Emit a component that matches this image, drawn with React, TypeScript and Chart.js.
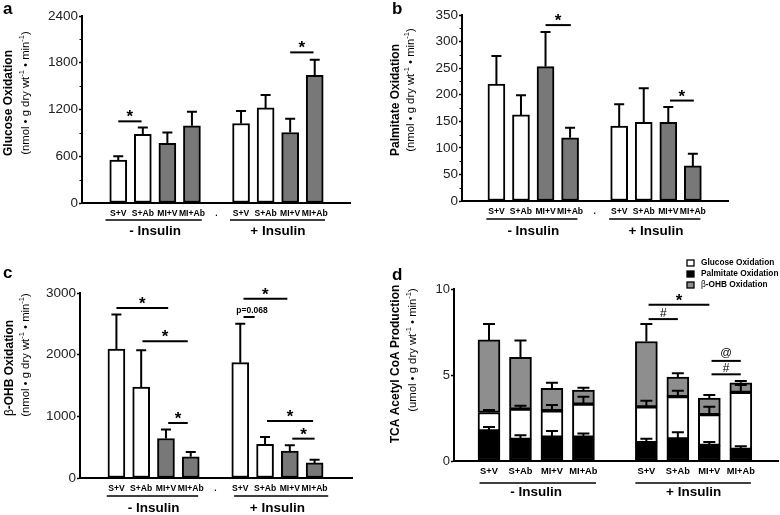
import React, { useEffect, useRef } from 'react';
import { Chart, registerables } from 'chart.js';

Chart.register(...registerables);

// ---------------- DATA ----------------
const categories = ['S+V', 'S+Ab', 'MI+V', 'MI+Ab', '.', 'S+V', 'S+Ab', 'MI+V', 'MI+Ab'];
const categoriesD = ['S+V', 'S+Ab', 'MI+V', 'MI+Ab', '', 'S+V', 'S+Ab', 'MI+V', 'MI+Ab'];
const groupLabels = ['- Insulin', '+ Insulin'];

// a: Glucose oxidation (nmol/g dry wt/min)
const glucoseMean = [550, 880, 765, 990, null, 1020, 1220, 905, 1640];
const glucoseErr = [50, 90, 140, 180, null, 160, 165, 175, 200];
// b: Palmitate oxidation
const palmitateMean = [220, 162, 253, 119, null, 141, 148, 148, 66];
const palmitateErr = [53, 37, 65, 19, null, 41, 64, 29, 23];
// c: beta-OHB oxidation
const ohbMean = [2090, 1475, 640, 345, null, 1870, 545, 435, 245];
const ohbErr = [560, 595, 145, 75, null, 630, 120, 95, 50];

// d: TCA acetyl CoA production (umol/g dry wt/min), stacked
const legendLabels = ['Glucose Oxidation', 'Palmitate Oxidation', 'β-OHB Oxidation'];
const tcaPalmitate = [1.75, 1.26, 1.38, 1.38, null, 1.07, 1.28, 0.91, 0.68];
const tcaPalmitateErr = [0.23, 0.24, 0.37, 0.22, null, 0.23, 0.39, 0.2, 0.18];
const tcaGlucose = [1.07, 1.76, 1.54, 1.93, null, 2.08, 2.46, 1.79, 3.31];
const tcaGlucoseErr = [0.14, 0.19, 0.33, 0.43, null, 0.35, 0.35, 0.45, 0.43];
const tcaOhb = [4.22, 3.01, 1.3, 0.81, null, 3.8, 1.14, 0.96, 0.56];
const tcaOhbErr = [0.92, 0.97, 0.33, 0.14, null, 1.01, 0.22, 0.17, 0.1];

// y axis ranges [max, step]
const yRangeA = [2400, 600];
const yRangeB = [350, 50];
const yRangeC = [3000, 1000];
const yRangeD = [10, 5];

// significance annotations: [from index, to index, y value, label]
const sigA: [number, number, number, string][] = [[0, 0.95, 1048, '*'], [7, 7.95, 1933, '*']];
const sigB: [number, number, number, string][] = [[2, 3.03, 331, '*'], [7.07, 8.04, 189, '*']];
const sigC: [number, number, number, string][] = [
  [0, 2.09, 2757, '*'], [1.05, 2.88, 2216, '*'], [2.09, 2.88, 892, '*'],
  [5.13, 6.9, 2908, '*'], [5.13, 5.58, 2611, 'p=0.068'], [6.08, 7.94, 924, '*'], [7.1, 8.0, 638, '*'],
];
const sigD: [number, number, number, string][] = [
  [5.07, 7.0, 9.09, '*'], [5.07, 6.0, 8.25, '#'], [7.07, 8.0, 5.82, '@'], [7.07, 8.0, 5.04, '#'],
];

// ---------------- STYLE ----------------
const FF = '"Liberation Sans", Arial, Helvetica, sans-serif';
const WHITE = '#ffffff';
const GRAY = '#787878';
const GRAY_D = '#8e8e8e';

type Seg = { t: string; font: string; dy?: number };

function drawRich(ctx: CanvasRenderingContext2D, segs: Seg[], cx: number, cy: number, rotate: boolean) {
  ctx.save();
  ctx.translate(cx, cy);
  if (rotate) ctx.rotate(-Math.PI / 2);
  let total = 0;
  const widths = segs.map((s) => {
    ctx.font = s.font;
    const w = ctx.measureText(s.t).width;
    total += w;
    return w;
  });
  let x = -total / 2;
  ctx.textBaseline = 'middle';
  ctx.textAlign = 'left';
  ctx.fillStyle = '#000';
  segs.forEach((s, i) => {
    ctx.font = s.font;
    ctx.fillText(s.t, x, s.dy || 0);
    x += widths[i];
  });
  ctx.restore();
}

const B12 = `bold 12px ${FF}`;
const N12 = `12px ${FF}`;
const N11 = `11.3px ${FF}`;
const S7 = `7.5px ${FF}`;
const units = (u: string): Seg[] => [
  { t: `(${u} • g dry wt`, font: N11 },
  { t: '-1', font: S7, dy: -4 },
  { t: ' • min', font: N11 },
  { t: '-1', font: S7, dy: -4 },
  { t: ')', font: N11 },
];

function sigStyle(label: string) {
  if (label === '*') return { font: `bold 17px ${FF}`, dy: 1, dx: 0 };
  if (label === '#') return { font: `12px ${FF}`, dy: -2.5, dx: 0 };
  if (label === '@') return { font: `11.5px ${FF}`, dy: -4.5, dx: 0 };
  return { font: `bold 8.5px ${FF}`, dy: -4, dx: 3 };
}

type PanelCfg = {
  letter: string;
  letterPos: [number, number];
  title: Seg[];
  titlePos: [number, number];
  unitsSegs: Seg[];
  unitsPos: [number, number];
  errs: ((number | null)[] | null)[];
  capW: number;
  minorStep?: number;
  groupSpans: [number, number][];
  groupLineDy: number;
  groupTextDy: number;
  groupFont: string;
  sigs: [number, number, number, string][];
  legend?: { x: number; ys: number[]; order: number[] };
};

function decoPlugin(cfg: PanelCfg) {
  return {
    id: 'deco',
    afterDatasetsDraw(chart: any) {
      const ctx: CanvasRenderingContext2D = chart.ctx;
      const ys = chart.scales.y;
      ctx.save();
      ctx.strokeStyle = '#000';
      ctx.lineWidth = 2;
      chart.data.datasets.forEach((ds: any, k: number) => {
        const errs = cfg.errs[k];
        if (!errs) return;
        const meta = chart.getDatasetMeta(k);
        ds.data.forEach((pt: any, j: number) => {
          if (pt.y == null || errs[j] == null) return;
          let cum = 0;
          for (let m = 0; m <= k; m++) cum += chart.data.datasets[m].data[j].y || 0;
          const el = meta.data[j];
          const x = el.x;
          const y0 = ys.getPixelForValue(cum);
          const y1 = ys.getPixelForValue(cum + (errs[j] as number));
          ctx.beginPath();
          ctx.moveTo(x, y0);
          ctx.lineTo(x, y1);
          ctx.moveTo(x - cfg.capW / 2, y1);
          ctx.lineTo(x + cfg.capW / 2, y1);
          ctx.stroke();
        });
      });
      ctx.restore();
    },
    afterDraw(chart: any) {
      const ctx: CanvasRenderingContext2D = chart.ctx;
      const xs = chart.scales.x;
      const ys = chart.scales.y;
      const area = chart.chartArea;
      ctx.save();
      // panel letter
      ctx.fillStyle = '#000';
      ctx.font = `bold 17px ${FF}`;
      ctx.textAlign = 'left';
      ctx.textBaseline = 'alphabetic';
      ctx.fillText(cfg.letter, cfg.letterPos[0], cfg.letterPos[1]);
      // axis titles
      drawRich(ctx, cfg.title, cfg.titlePos[0], cfg.titlePos[1], true);
      drawRich(ctx, cfg.unitsSegs, cfg.unitsPos[0], cfg.unitsPos[1], true);
      // minor ticks
      if (cfg.minorStep) {
        ctx.strokeStyle = '#000';
        ctx.lineWidth = 1;
        const major = ys.options.ticks.stepSize;
        for (let v = cfg.minorStep; v < ys.max; v += cfg.minorStep) {
          if (Math.abs(v / major - Math.round(v / major)) < 1e-6) continue;
          const y = Math.round(ys.getPixelForValue(v)) + 0.5;
          ctx.beginPath();
          ctx.moveTo(area.left - 2.5, y);
          ctx.lineTo(area.left, y);
          ctx.stroke();
        }
      }
      // group underlines and labels
      ctx.strokeStyle = '#000';
      ctx.lineWidth = 1.6;
      cfg.groupSpans.forEach((sp, i) => {
        const y = area.bottom + cfg.groupLineDy;
        ctx.beginPath();
        ctx.moveTo(xs.getPixelForValue(sp[0]), y);
        ctx.lineTo(xs.getPixelForValue(sp[1]), y);
        ctx.stroke();
        ctx.font = cfg.groupFont;
        ctx.textAlign = 'center';
        ctx.textBaseline = 'middle';
        ctx.fillText(groupLabels[i], xs.getPixelForValue(i === 0 ? 1.5 : 6.5), area.bottom + cfg.groupTextDy);
      });
      // significance markers
      ctx.lineWidth = 2;
      cfg.sigs.forEach(([a, b, v, label]) => {
        const y = ys.getPixelForValue(v);
        const x0 = xs.getPixelForValue(a);
        const x1 = xs.getPixelForValue(b);
        ctx.beginPath();
        ctx.moveTo(x0, y);
        ctx.lineTo(x1, y);
        ctx.stroke();
        const st = sigStyle(label);
        ctx.font = st.font;
        ctx.textAlign = 'center';
        ctx.textBaseline = 'alphabetic';
        ctx.fillText(label, (x0 + x1) / 2 + st.dx, y + st.dy);
      });
      // legend
      if (cfg.legend) {
        const lg = cfg.legend;
        lg.order.forEach((dsIdx, r) => {
          const ds = chart.data.datasets[dsIdx];
          const y = lg.ys[r];
          ctx.fillStyle = ds.backgroundColor;
          ctx.fillRect(lg.x, y - 3, 7, 6);
          ctx.strokeStyle = '#000';
          ctx.lineWidth = 1.3;
          ctx.strokeRect(lg.x, y - 3, 7, 6);
          ctx.fillStyle = '#000';
          const label: string = ds.label;
          const segs: Seg[] = label.startsWith('β')
            ? [{ t: 'β', font: `8.3px ${FF}` }, { t: label.slice(1), font: `bold 8.3px ${FF}` }]
            : [{ t: label, font: `bold 8.3px ${FF}` }];
          let x = lg.x + 14;
          ctx.textBaseline = 'middle';
          ctx.textAlign = 'left';
          segs.forEach((s) => {
            ctx.font = s.font;
            ctx.fillText(s.t, x, y);
            x += ctx.measureText(s.t).width;
          });
        });
      }
      ctx.restore();
    },
  };
}

type Layout = { yw: number; top: number; right: number; xh: number; xMin: number; xMax: number };

function baseOptions(lay: Layout, cats: string[], yr: number[], yFont: number, xFont: number) {
  return {
    animation: false,
    responsive: false,
    devicePixelRatio: 1,
    layout: { padding: { top: lay.top, right: lay.right, bottom: 0, left: 0 } },
    plugins: { legend: { display: false }, tooltip: { enabled: false } },
    scales: {
      x: {
        type: 'linear',
        stacked: true,
        min: lay.xMin,
        max: lay.xMax,
        grid: { display: true, drawOnChartArea: false, drawTicks: false },
        border: { display: true, color: '#000', width: 2 },
        ticks: {
          stepSize: 1,
          includeBounds: false,
          autoSkip: false,
          maxRotation: 0,
          minRotation: 0,
          padding: 5,
          color: '#000',
          font: { family: FF, size: xFont, weight: 'bold' },
          callback: (v: number) => (Number.isInteger(v) && cats[v] !== undefined ? cats[v] : ''),
        },
        afterFit: (s: any) => {
          s.height = lay.xh;
        },
      },
      y: {
        stacked: true,
        min: 0,
        max: yr[0],
        grid: { display: true, drawOnChartArea: false, drawTicks: true, tickLength: 3, tickColor: '#000', tickWidth: 1.5 },
        border: { display: true, color: '#000', width: 2 },
        ticks: {
          stepSize: yr[1],
          padding: 1,
          color: '#222',
          font: { family: FF, size: yFont },
          callback: (v: number) => String(v),
        },
        afterFit: (s: any) => {
          s.width = lay.yw;
        },
      },
    },
  };
}

function simpleConfig(
  label: string,
  means: (number | null)[],
  errs: (number | null)[],
  yr: number[],
  lay: Layout,
  deco: Omit<PanelCfg, 'errs' | 'capW'>,
) {
  return {
    type: 'bar',
    data: {
      datasets: [
        {
          label,
          data: means.map((v, i) => ({ x: i, y: v })),
          backgroundColor: categories.map((c) => (c.startsWith('MI') ? GRAY : WHITE)),
          borderColor: '#000',
          borderWidth: 2,
          borderSkipped: false,
          barThickness: 17,
        },
      ],
    },
    options: baseOptions(lay, categories, yr, 13.5, 8.6),
    plugins: [decoPlugin({ ...deco, errs: [errs], capW: 10 })],
  };
}

const GF = `bold 13.5px ${FF}`;

const buildA = () =>
  simpleConfig('Glucose Oxidation', glucoseMean, glucoseErr, yRangeA,
    { yw: 82, top: 16, right: 40, xh: 54, xMin: -0.87, xMax: 8.83 },
    {
      letter: 'a', letterPos: [3, 14],
      title: [{ t: 'Glucose Oxidation', font: B12 }], titlePos: [9, 103],
      unitsSegs: units('nmol'), unitsPos: [25.5, 93],
      minorStep: 300,
      groupSpans: [[-0.52, 3.4], [4.55, 8.42]], groupLineDy: 17, groupTextDy: 28.7, groupFont: GF,
      sigs: sigA,
    });

const buildB = () =>
  simpleConfig('Palmitate Oxidation', palmitateMean, palmitateErr, yRangeB,
    { yw: 72, top: 15, right: 52, xh: 56, xMin: -0.8, xMax: 8.83 },
    {
      letter: 'b', letterPos: [2, 14],
      title: [{ t: 'Palmitate Oxidation', font: B12 }], titlePos: [6, 100],
      unitsSegs: units('nmol'), unitsPos: [21, 90],
      minorStep: 25,
      groupSpans: [[-0.41, 3.3], [4.59, 8.31]], groupLineDy: 18, groupTextDy: 30.7, groupFont: GF,
      sigs: sigB,
    });

const buildC = () =>
  simpleConfig('β-OHB Oxidation', ohbMean, ohbErr, yRangeC,
    { yw: 80, top: 36, right: 38, xh: 37, xMin: -0.86, xMax: 8.9 },
    {
      letter: 'c', letterPos: [3, 21],
      title: [{ t: 'β', font: N12 }, { t: '-OHB Oxidation', font: B12 }], titlePos: [10, 111],
      unitsSegs: units('nmol'), unitsPos: [25.5, 98],
      groupSpans: [[-0.39, 3.3], [4.75, 8.55]], groupLineDy: 18, groupTextDy: 30.6, groupFont: GF,
      sigs: sigC,
    });

const buildD = () => {
  const lay = { yw: 64, top: 32, right: 2, xh: 54, xMin: -0.54, xMax: 8.61 };
  const mk = (label: string, vals: (number | null)[], color: string) => ({
    label,
    data: vals.map((v, i) => ({ x: i, y: v })),
    backgroundColor: color,
    borderColor: '#000',
    borderWidth: 2,
    borderSkipped: false,
    barThickness: 22,
    stack: 's',
  });
  return {
    type: 'bar',
    data: {
      datasets: [
        mk(legendLabels[1], tcaPalmitate, '#000000'),
        mk(legendLabels[0], tcaGlucose, WHITE),
        mk(legendLabels[2], tcaOhb, GRAY_D),
      ],
    },
    options: baseOptions(lay, categoriesD, yRangeD, 13, 9.3),
    plugins: [
      decoPlugin({
        letter: 'd', letterPos: [2, 23],
        title: [{ t: 'TCA Acetyl CoA Production', font: B12 }], titlePos: [6, 107],
        unitsSegs: units('umol'), unitsPos: [23, 93],
        errs: [tcaPalmitateErr, tcaGlucoseErr, tcaOhbErr],
        capW: 12,
        groupSpans: [[-0.3, 3.4], [4.65, 8.32]], groupLineDy: 22, groupTextDy: 31, groupFont: GF,
        sigs: sigD,
        legend: { x: 297, ys: [6, 17, 28], order: [1, 0, 2] },
      }),
    ],
  };
};

function Panel({ build, left, top, w, h }: { build: () => any; left: number; top: number; w: number; h: number }) {
  const ref = useRef<HTMLCanvasElement>(null);
  useEffect(() => {
    const chart = new Chart(ref.current as HTMLCanvasElement, build());
    return () => chart.destroy();
  }, []);
  return (
    <div style={{ position: 'absolute', left, top, width: w, height: h }}>
      <canvas ref={ref} width={w} height={h} style={{ width: w, height: h, display: 'block' }} />
    </div>
  );
}

export default function App() {
  return (
    <div style={{ position: 'absolute', left: 0, top: 0, width: 780, height: 515, background: '#fff', overflow: 'hidden' }}>
      <Panel build={buildA} left={0} top={0} w={390} h={257} />
      <Panel build={buildB} left={390} top={0} w={390} h={257} />
      <Panel build={buildC} left={0} top={257} w={390} h={258} />
      <Panel build={buildD} left={390} top={257} w={390} h={258} />
    </div>
  );
}
